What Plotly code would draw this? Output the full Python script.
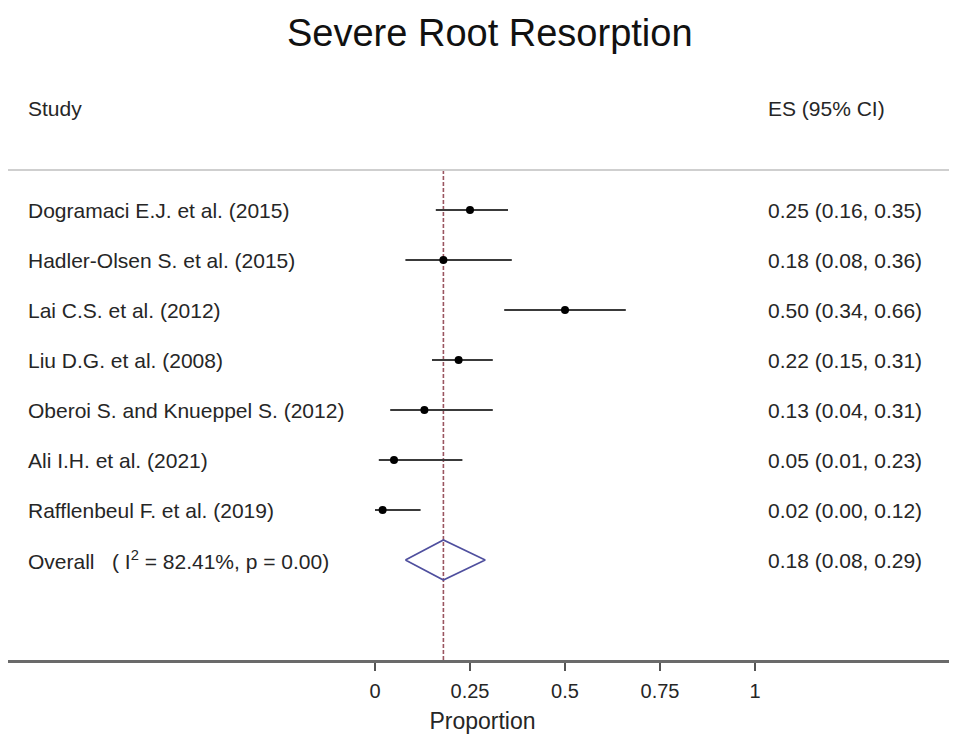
import plotly.graph_objects as go

studies = [
    "Dogramaci E.J. et al. (2015)",
    "Hadler-Olsen S. et al. (2015)",
    "Lai C.S. et al. (2012)",
    "Liu D.G. et al. (2008)",
    "Oberoi S. and Knueppel S. (2012)",
    "Ali I.H. et al. (2021)",
    "Rafflenbeul F. et al. (2019)",
]
es = [0.25, 0.18, 0.50, 0.22, 0.13, 0.05, 0.02]
lo = [0.16, 0.08, 0.34, 0.15, 0.04, 0.01, 0.00]
hi = [0.35, 0.36, 0.66, 0.31, 0.31, 0.23, 0.12]
overall_es, overall_lo, overall_hi = 0.18, 0.08, 0.29
overall_label = "Overall   ( I<sup>2</sup> = 82.41%, p = 0.00)"
tick_vals = [0, 0.25, 0.5, 0.75, 1]
tick_text = ["0", "0.25", "0.5", "0.75", "1"]
title = "Severe Root Resorption"
x_title = "Proportion"

FONT = "Liberation Sans, Arial, sans-serif"
TXT = "#262626"
rows = list(range(1, len(studies) + 1))
overall_row = len(studies) + 1

W, H = 949, 727  # page body adds an 8px margin

fig = go.Figure()

# reference dashed line at the overall estimate
fig.add_trace(go.Scatter(
    x=[overall_es, overall_es], y=[0.2, 10], mode="lines",
    line=dict(color="#9a5560", width=1.6, dash="4px,2px"),
    hoverinfo="skip", showlegend=False))

# CI lines
for r, l, h in zip(rows, lo, hi):
    fig.add_trace(go.Scatter(
        x=[l, h], y=[r, r], mode="lines",
        line=dict(color="#3a3a3a", width=2),
        hoverinfo="skip", showlegend=False))

# point estimates
fig.add_trace(go.Scatter(
    x=es, y=rows, mode="markers",
    marker=dict(color="black", size=8, symbol="circle"),
    showlegend=False))

# overall diamond
dh = 0.4
fig.add_trace(go.Scatter(
    x=[overall_lo, overall_es, overall_hi, overall_es, overall_lo],
    y=[overall_row, overall_row - dh, overall_row, overall_row + dh, overall_row],
    mode="lines", line=dict(color="#4f4f9e", width=1.6),
    hoverinfo="skip", showlegend=False))

ann = []
label_x = 18 / W
es_x = 758 / W
LS = 21
for r, s, e, l, h in zip(rows, studies, es, lo, hi):
    ann.append(dict(x=label_x, xref="paper", y=r, yref="y", text=s,
                    xanchor="left", yanchor="middle", showarrow=False,
                    font=dict(family=FONT, size=LS, color=TXT)))
    ann.append(dict(x=es_x, xref="paper", y=r, yref="y",
                    text=f"{e:.2f} ({l:.2f}, {h:.2f})",
                    xanchor="left", yanchor="middle", showarrow=False,
                    font=dict(family=FONT, size=LS, color=TXT)))
ann.append(dict(x=label_x, xref="paper", y=overall_row, yref="y", text=overall_label,
                xanchor="left", yanchor="middle", showarrow=False,
                font=dict(family=FONT, size=LS, color=TXT)))
ann.append(dict(x=es_x, xref="paper", y=overall_row, yref="y",
                text=f"{overall_es:.2f} ({overall_lo:.2f}, {overall_hi:.2f})",
                xanchor="left", yanchor="middle", showarrow=False,
                font=dict(family=FONT, size=LS, color=TXT)))
ann.append(dict(x=label_x, xref="paper", y=-1.04, yref="y", text="Study",
                xanchor="left", yanchor="middle", showarrow=False,
                font=dict(family=FONT, size=LS, color=TXT)))
ann.append(dict(x=es_x, xref="paper", y=-1.04, yref="y", text="ES (95% CI)",
                xanchor="left", yanchor="middle", showarrow=False,
                font=dict(family=FONT, size=LS, color=TXT)))
ann.append(dict(x=482 / W, xref="paper", y=-2.54, yref="y", text=title,
                xanchor="center", yanchor="middle", showarrow=False,
                font=dict(family=FONT, size=38, color="#111111")))

x0 = -367 / 380
fig.update_layout(
    width=W, height=H,
    margin=dict(l=0, r=0, t=0, b=75),
    paper_bgcolor="white", plot_bgcolor="white",
    annotations=ann,
    shapes=[dict(type="line", xref="paper", x0=0, x1=1, yref="y", y0=0.2, y1=0.2,
                 line=dict(color="#cfcfcf", width=2))],
    xaxis=dict(range=[x0, x0 + W / 380],
               tickvals=tick_vals, ticktext=tick_text,
               showgrid=False, zeroline=False,
               showline=True, linecolor="#6a6a6a", linewidth=3,
               ticks="outside", ticklen=8, tickwidth=2, tickcolor="#555555",
               ticklabelstandoff=3,
               tickfont=dict(family=FONT, size=20, color=TXT),
               title=dict(text=x_title, font=dict(family=FONT, size=23, color=TXT), standoff=12)),
    yaxis=dict(range=[10, -3.04], visible=False, showgrid=False, zeroline=False),
)

fig.write_html("out.html")
